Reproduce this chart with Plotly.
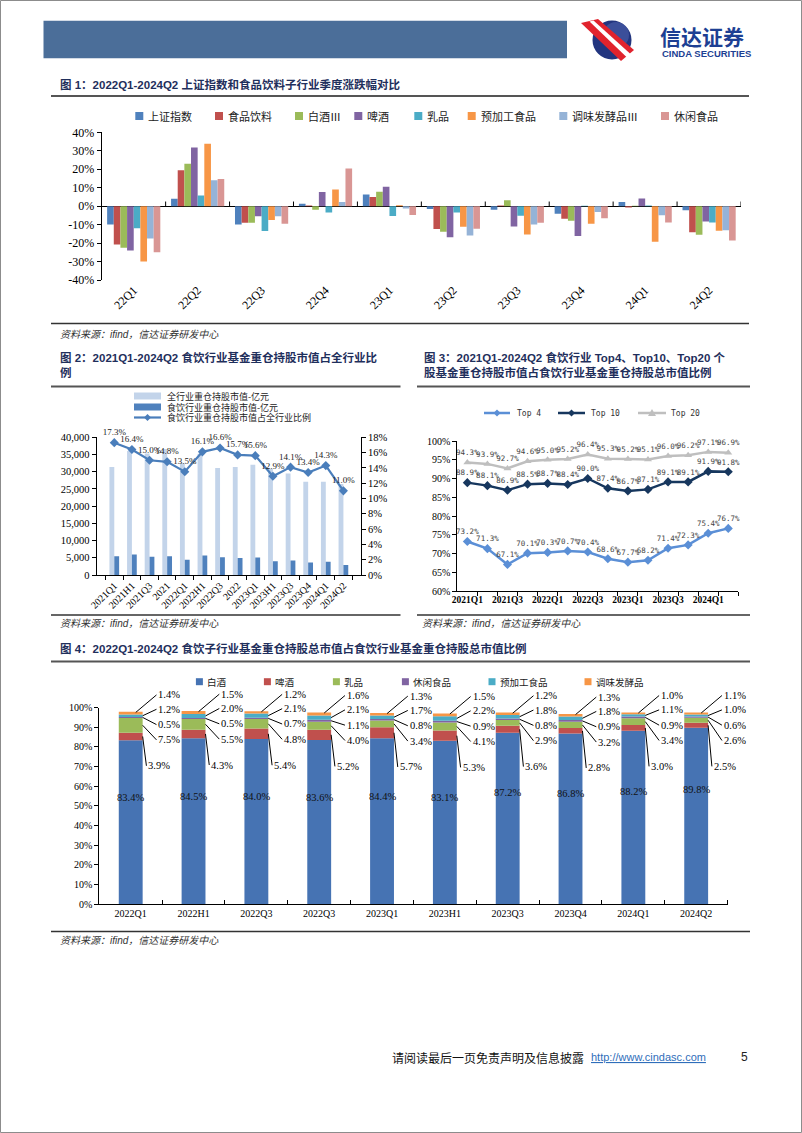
import plotly.graph_objects as go

W, H = 802, 1133
SERIF = "Liberation Serif, Noto Sans CJK SC, serif"
SANS = "Liberation Sans, Noto Sans CJK SC, sans-serif"
CJK = "Noto Sans CJK SC, sans-serif"
MONO = "DejaVu Sans Mono, monospace"

# ================= DATA =================
# Chart 1: quarterly change (%)
c1_quarters = ["22Q1", "22Q2", "22Q3", "22Q4", "23Q1", "23Q2", "23Q3", "23Q4", "24Q1", "24Q2"]
c1_names = ["上证指数", "食品饮料", "白酒Ⅲ", "啤酒", "乳品", "预加工食品", "调味发酵品Ⅲ", "休闲食品"]
szzs = [-10.0, 4.0, -10.0, 1.3, 6.3, -1.5, -2.0, -4.1, 2.2, -2.2]
spyl = [-20.8, 19.5, -9.0, 0.3, 5.0, -12.4, 0.3, -6.8, -0.7, -14.2]
baijiu = [-22.5, 23.0, -9.0, -2.0, 7.8, -13.9, 3.2, -7.9, 0.2, -15.5]
pijiu = [-24.0, 31.7, -5.5, 7.7, 10.5, -16.8, -11.0, -16.2, 4.1, -8.3]
rupin = [-12.0, 5.8, -13.5, -3.5, -5.3, -3.4, -5.2, 0.2, 0.3, -8.8]
yujiagong = [-30.0, 33.8, -7.5, 9.0, 0.5, -11.2, -15.3, -9.5, -19.3, -13.3]
tiaowei = [-17.5, 14.0, -5.5, 2.3, -1.3, -15.9, -9.9, -3.2, -4.9, -13.0]
xiuxian = [-25.0, 14.7, -9.5, 20.4, -4.8, -12.3, -9.0, -6.5, -8.8, -18.6]

# Chart 2: holdings market value (100m yuan) and ratio (%)
c2_periods = ["2021Q1", "2021H1", "2021Q3", "2021", "2022Q1", "2022H1", "2022Q3", "2022",
              "2023Q1", "2023H1", "2023Q3", "2023Q4", "2024Q1", "2024Q2"]
c2_all = [31400, 36000, 35300, 36600, 32400, 35200, 31100, 31400, 32000, 30800, 29500, 27100, 27100, 26400]
c2_food = [5430, 5950, 5310, 5470, 4420, 5680, 5150, 4940, 5060, 4020, 4210, 3600, 3870, 2900]
c2_ratio = [17.3, 16.4, 15.0, 14.8, 13.5, 16.1, 16.6, 15.7, 15.6, 12.9, 14.1, 13.4, 14.3, 11.0]

# Chart 3: concentration (%)
c3_quarters = ["2021Q1", "2021Q2", "2021Q3", "2021Q4", "2022Q1", "2022Q2", "2022Q3", "2022Q4",
               "2023Q1", "2023Q2", "2023Q3", "2023Q4", "2024Q1", "2024Q2"]
top4 = [73.2, 71.3, 67.1, 70.1, 70.3, 70.7, 70.4, 68.6, 67.7, 68.2, 71.4, 72.3, 75.4, 76.7]
top10 = [88.9, 88.1, 86.9, 88.5, 88.7, 88.4, 90.0, 87.4, 86.7, 87.1, 89.1, 89.1, 91.9, 91.8]
top20 = [94.3, 93.9, 92.7, 94.6, 95.0, 95.2, 96.4, 95.3, 95.2, 95.1, 96.0, 96.2, 97.1, 96.9]

# Chart 4: sub-industry share (%)
c4_periods = ["2022Q1", "2022H1", "2022Q3", "2022Q3", "2023Q1", "2023H1", "2023Q3", "2023Q4", "2024Q1", "2024Q2"]
c4_names = ["白酒", "啤酒", "乳品", "休闲食品", "预加工食品", "调味发酵品"]
s_baijiu = [83.4, 84.5, 84.0, 83.6, 84.4, 83.1, 87.2, 86.8, 88.2, 89.8]
s_pijiu = [3.9, 4.3, 5.4, 5.2, 5.7, 5.3, 3.6, 2.8, 3.0, 2.5]
s_rupin = [7.5, 5.5, 4.8, 4.0, 3.4, 4.1, 2.9, 3.2, 3.4, 2.6]
s_xiuxian = [0.5, 0.5, 0.7, 1.1, 0.8, 0.9, 0.8, 0.9, 0.9, 0.6]
s_yujiagong = [1.2, 2.0, 2.1, 2.1, 1.7, 2.2, 1.8, 1.8, 1.1, 1.0]
s_tiaowei = [1.4, 1.5, 1.2, 1.6, 1.3, 1.5, 1.2, 1.3, 1.0, 1.1]

# ================= STYLE =================
c1_colors = ["#4F81BD", "#C0504D", "#9BBB59", "#8064A2", "#4BACC6", "#F79646", "#95B3D7", "#D99694"]
c2_light, c2_dark, c2_line = "#C3D4EA", "#4F81BD", "#4A7EBB"
c3_colors = ["#5B8FD6", "#17375E", "#BFBFBF"]
c4_colors = ["#4673B3", "#C0504D", "#9BBB59", "#8064A2", "#4BACC6", "#F79646"]


def px(x):
    return x / W


def py(y):
    return 1 - y / H


fig = go.Figure()
shapes = []
annotations = []


def text(x, y, s, size=11, color="#000", family=CJK, xanchor="left", yanchor="middle"):
    annotations.append(dict(x=px(x), y=py(y), xref="paper", yref="paper", text=s, showarrow=False,
                            xanchor=xanchor, yanchor=yanchor, align="left",
                            font=dict(size=size, color=color, family=family)))


def hline(x0, x1, y, color, width):
    shapes.append(dict(type="line", xref="paper", yref="paper", x0=px(x0), x1=px(x1),
                       y0=py(y), y1=py(y), line=dict(color=color, width=width)))


def rect(x0, y0, x1, y1, fill, line_color=None, lw=0):
    shapes.append(dict(type="rect", xref="paper", yref="paper", x0=px(x0), x1=px(x1),
                       y0=py(y1), y1=py(y0), fillcolor=fill,
                       line=dict(color=line_color or fill, width=lw)))


def poly(pts, fill, line_color=None, lw=0):
    d = "M " + " L ".join(f"{px(a):.5f},{py(b):.5f}" for a, b in pts) + " Z"
    shapes.append(dict(type="path", xref="paper", yref="paper", path=d, fillcolor=fill,
                       line=dict(color=line_color or fill, width=lw)))


# ---------- page frame, header, logo ----------
rect(0.5, 0.5, 801.5, 1132.5, "rgba(0,0,0,0)", "#8C8C8C", 1)
rect(43.5, 20.7, 567, 58.3, "#4B6E99")
shapes.append(dict(type="circle", xref="paper", yref="paper", x0=px(592.5), x1=px(631.5),
                   y0=py(59.5), y1=py(20.5), fillcolor="#22357F", line=dict(width=0)))
shapes.append(dict(type="circle", xref="paper", yref="paper", x0=px(603), x1=px(629),
                   y0=py(48), y1=py(22), fillcolor="#5064B0", opacity=0.55, line=dict(width=0)))
poly([(581, 23), (598, 19), (634, 50), (621, 61)], "#E1232D")
poly([(589.5, 21.5), (593.5, 20.5), (630.5, 54), (627, 57.5)], "#FFFFFF")
text(658, 36, "<b>信达证券</b>", size=21, color="#1D3F93", family=CJK)
text(660, 54, "<b>CINDA SECURITIES</b>", size=9.5, color="#1D3F93", family=SANS)

TITLE_C = "#1F2F5C"
# ---------- titles / separators ----------
text(58, 84, "<b>图 1：2022Q1-2024Q2 上证指数和食品饮料子行业季度涨跌幅对比</b>", 11.5, TITLE_C, SANS)
hline(51, 749, 96, "#555555", 2)
hline(51, 749, 323.5, "#333333", 1.3)
text(58, 334, "<i>资料来源：ifind，信达证券研发中心</i>", 10, "#333333", SANS)

text(58, 364.5, "<b>图 2：2021Q1-2024Q2 食饮行业基金重仓持股市值占全行业比<br>例</b>", 11.5, TITLE_C, SANS)
hline(51, 400.5, 386.5, "#555555", 2)
text(422, 364.5, "<b>图 3：2021Q1-2024Q2 食饮行业 Top4、Top10、Top20 个<br>股基金重仓持股市值占食饮行业基金重仓持股总市值比例</b>",
     11.5, TITLE_C, SANS)
hline(417, 750, 386.5, "#555555", 2)
hline(51, 400.5, 615, "#333333", 1.3)
hline(417, 750, 615, "#333333", 1.3)
text(58, 623, "<i>资料来源：ifind，信达证券研发中心</i>", 10, "#333333", SANS)
text(420, 623, "<i>资料来源：ifind，信达证券研发中心</i>", 10, "#333333", SANS)

text(58, 648.5, "<b>图 4：2022Q1-2024Q2 食饮子行业基金重仓持股总市值占食饮行业基金重仓持股总市值比例</b>",
     11.5, TITLE_C, SANS)
hline(51, 750, 661.5, "#555555", 2)
hline(51, 750, 931.5, "#333333", 1.3)
text(58, 940, "<i>资料来源：ifind，信达证券研发中心</i>", 10, "#333333", SANS)

# footer
text(390, 1057, "请阅读最后一页免责声明及信息披露", 12, "#111111", CJK)
text(589, 1057, "<u>http://www.cindasc.com</u>", 11, "#2F6EBA", SANS)
text(739, 1057, "5", 12, "#222222", SANS)

# ================= CHART 1 =================
c1_series = [szzs, spyl, baijiu, pijiu, rupin, yujiagong, tiaowei, xiuxian]
bw1 = 0.104
for k, (nm, vals, col) in enumerate(zip(c1_names, c1_series, c1_colors)):
    fig.add_trace(go.Bar(x=c1_quarters, y=[v / 100 for v in vals], name=nm, width=bw1,
                         offset=-0.415 + k * bw1, marker=dict(color=col, line=dict(width=0)),
                         xaxis="x", yaxis="y", showlegend=False, opacity=1))
for k in range(len(c1_quarters)):
    shapes.append(dict(type="line", xref="x", yref="y", x0=k + 0.5, x1=k + 0.5, y0=0, y1=0.025,
                       line=dict(color="#000", width=1)))
c1_leg_x = [139.3, 219, 299, 358.3, 418.3, 471.7, 563.3, 665]
for nm, col, lx in zip(c1_names, c1_colors, c1_leg_x):
    rect(lx - 4, 112, lx + 4, 120, col)
    text(lx + 7, 116, nm, 11, "#222222", CJK)

c1_ticks = [i / 10 for i in range(-4, 5)]

# ================= CHART 2 =================
fig.add_trace(go.Bar(x=c2_periods, y=c2_all, name="全行业重仓持股市值-亿元", width=0.275, offset=-0.275,
                     marker=dict(color=c2_light, line=dict(width=0)), xaxis="x2", yaxis="y2", showlegend=False))
fig.add_trace(go.Bar(x=c2_periods, y=c2_food, name="食饮行业重仓持股市值-亿元", width=0.275, offset=0,
                     marker=dict(color=c2_dark, line=dict(width=0)), xaxis="x2", yaxis="y2", showlegend=False))
fig.add_trace(go.Scatter(x=c2_periods, y=[r / 100 for r in c2_ratio], name="食饮行业重仓持股市值占全行业比例",
                         mode="lines+markers+text", text=[f"{r:.1f}%" for r in c2_ratio],
                         textposition="top center", textfont=dict(family=SERIF, size=9, color="#222"),
                         line=dict(color=c2_line, width=2.2),
                         marker=dict(symbol="diamond", size=7, color=c2_line),
                         xaxis="x2", yaxis="y3", showlegend=False, cliponaxis=False))
rect(134, 392.5, 161, 399.5, c2_light)
text(165, 396, "全行业重仓持股市值-亿元", 9, "#222222", CJK)
rect(134, 403.5, 161, 410.5, c2_dark)
text(165, 407, "食饮行业重仓持股市值-亿元", 9, "#222222", CJK)
hline(134, 161, 417.5, c2_line, 2.2)
poly([(147.5, 414), (151, 417.5), (147.5, 421), (144, 417.5)], c2_line)
text(165, 417.5, "食饮行业重仓持股市值占全行业比例", 9, "#222222", CJK)

# ================= CHART 3 =================
x3 = list(range(len(c3_quarters)))
c3_names = ["Top 4", "Top 10", "Top 20"]
c3_syms = ["diamond", "diamond", "triangle-up"]
for nm, vals, col, sym in zip(c3_names, [top4, top10, top20], c3_colors, c3_syms):
    fig.add_trace(go.Scatter(x=x3, y=[v / 100 for v in vals], name=nm, mode="lines+markers+text",
                             text=[f"{v:.1f}%" for v in vals], textposition="top center",
                             textfont=dict(family=MONO, size=7.5, color="#444444"),
                             line=dict(color=col, width=2.5), marker=dict(symbol=sym, size=7, color=col),
                             xaxis="x3", yaxis="y4", showlegend=False, cliponaxis=False))
c3_leg = [(484, 510, 515), (558, 585, 589), (638, 666, 669)]
for (l0, l1, tx), nm, col, sym in zip(c3_leg, c3_names, c3_colors, c3_syms):
    hline(l0, l1, 413, col, 2.5)
    cx = (l0 + l1) / 2
    if sym == "diamond":
        poly([(cx, 409.5), (cx + 3.5, 413), (cx, 416.5), (cx - 3.5, 413)], col)
    else:
        poly([(cx, 409), (cx + 4, 416), (cx - 4, 416)], col)
    text(tx, 413, nm, 8, "#333333", MONO)

# ================= CHART 4 =================
x4 = list(range(len(c4_periods)))
c4_series = [s_baijiu, s_pijiu, s_rupin, s_xiuxian, s_yujiagong, s_tiaowei]
base = [0.0] * len(x4)
bw4 = 0.38
mids = []
for nm, vals, col in zip(c4_names, c4_series, c4_colors):
    fig.add_trace(go.Bar(x=x4, y=[v / 100 for v in vals], base=[b / 100 for b in base], name=nm,
                         width=bw4, offset=-bw4 / 2, marker=dict(color=col, line=dict(width=0)),
                         xaxis="x4", yaxis="y5", showlegend=False))
    mids.append([b + v / 2 for b, v in zip(base, vals)])
    base = [b + v for b, v in zip(base, vals)]
totals = base
# label offsets (style): relative to bar total, in percentage points; x offsets in category units
lab_dy = [None, -27.5, -14.3, -6.5, 1.3, 8.6]
lab_dx = [None, 0.25, 0.41, 0.41, 0.41, 0.41]
for s in range(1, len(c4_series)):
    for i in x4:
        v = c4_series[s][i]
        if s == len(c4_series) - 1:
            hx, hy = i + 0.08, totals[i] - 0.3
        else:
            hx, hy = i + bw4 / 2, mids[s][i]
        annotations.append(dict(x=hx, y=hy / 100, xref="x4", yref="y5", text=f"{v:.1f}%",
                                showarrow=True, arrowhead=0, arrowwidth=1, arrowcolor="#000",
                                axref="x4", ayref="y5", ax=i + lab_dx[s], ay=(totals[i] + lab_dy[s]) / 100,
                                xanchor="left", yanchor="middle", standoff=0, startstandoff=0,
                                font=dict(family=SERIF, size=10.5, color="#000")))
for i in x4:
    annotations.append(dict(x=i, y=s_baijiu[i] * 0.65 / 100, xref="x4", yref="y5",
                            text=f"{s_baijiu[i]:.1f}%", showarrow=False,
                            font=dict(family=SERIF, size=10.5, color="#111")))
c4_leg_x = [199.4, 267.4, 336.4, 405.4, 492, 588]
for nm, col, lx in zip(c4_names, c4_colors, c4_leg_x):
    rect(lx - 3.5, 678.2, lx + 3.5, 685.2, col)
    text(lx + 6, 681.7, nm, 9.5, "#222222", CJK)

# ================= LAYOUT =================
axis_common = dict(showgrid=False, zeroline=False, linecolor="#000", linewidth=1, tickcolor="#000",
                   automargin=False)

fig.update_layout(
    template="none",
    width=W, height=H, margin=dict(l=0, r=0, t=0, b=0, pad=0, autoexpand=False),
    paper_bgcolor="white", plot_bgcolor="rgba(0,0,0,0)",
    barmode="overlay", showlegend=False,
    font=dict(family=SERIF, color="#000"),
    shapes=shapes, annotations=annotations,
    # chart 1
    xaxis=dict(domain=[px(101.7), px(741)], anchor="y", type="category", showline=False, ticks="",
               tickangle=-45, tickfont=dict(family=SERIF, size=12), showgrid=False, zeroline=False,
               automargin=False, range=[-0.5, len(c1_quarters) - 0.5]),
    yaxis=dict(domain=[py(280), py(132.3)], anchor="x", range=[-0.4, 0.4], tickvals=c1_ticks,
               ticktext=[f"{round(t * 100)}%" for t in c1_ticks], ticks="outside", ticklen=4,
               showline=True, linecolor="#000", linewidth=1, showgrid=False, automargin=False,
               tickcolor="#000",
               zeroline=True, zerolinecolor="#000", zerolinewidth=1, tickfont=dict(family=SERIF, size=12)),
    # chart 2
    xaxis2=dict(domain=[px(96.7), px(361)], anchor="y2", type="category", ticks="outside", ticklen=4,
                tickson="boundaries", tickangle=-45, tickfont=dict(family=SERIF, size=10),
                showline=True, **axis_common),
    yaxis2=dict(domain=[py(575), py(437.3)], anchor="x2", range=[0, 40000], dtick=5000, tickformat=",",
                ticks="outside", ticklen=4, tickfont=dict(family=SERIF, size=10.5), showline=True, **axis_common),
    yaxis3=dict(overlaying="y2", anchor="x2", side="right", range=[0, 0.18], dtick=0.02, tickformat=".0%",
                ticks="outside", ticklen=4, tickfont=dict(family=SERIF, size=10.5), showline=True, **axis_common),
    # chart 3
    xaxis3=dict(domain=[px(457.3), px(738.3)], anchor="y4", range=[-0.5, len(x3) - 0.5],
                tickvals=x3[::2], ticktext=[f"<b>{c3_quarters[i]}</b>" for i in x3[::2]], ticks="",
                minor=dict(tickvals=[i + 0.5 for i in x3], ticks="outside", ticklen=4, tickcolor="#000"),
                tickfont=dict(family=SERIF, size=9.5), showline=True, **axis_common),
    yaxis4=dict(domain=[py(591), py(441)], anchor="x3", range=[0.6, 1.0], dtick=0.05, tickformat=".0%",
                ticks="outside", ticklen=4, tickfont=dict(family=SERIF, size=10), showline=True, **axis_common),
    # chart 4
    xaxis4=dict(domain=[px(99.3), px(727.6)], anchor="y5", range=[-0.5, len(x4) - 0.5],
                tickvals=x4, ticktext=c4_periods, ticks="",
                minor=dict(tickvals=[i + 0.5 for i in x4], ticks="inside", ticklen=4, tickcolor="#000"),
                tickfont=dict(family=SERIF, size=10), showline=True, **axis_common),
    yaxis5=dict(domain=[py(904), py(707.7)], anchor="x4", range=[0, 1], dtick=0.1, tickformat=".0%",
                ticks="outside", ticklen=4, tickfont=dict(family=SERIF, size=10), showline=True, **axis_common),
)

fig.write_html("out.html", config={"displayModeBar": False, "staticPlot": True},
               post_script="document.body.style.margin='0px';document.body.style.overflow='hidden';")
